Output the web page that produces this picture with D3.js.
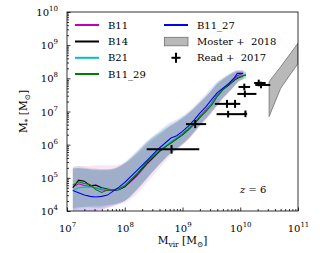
<!DOCTYPE html>
<html>
<head>
<meta charset="utf-8">
<script src="https://cdn.jsdelivr.net/npm/d3@7"></script>
<style>
  body { margin: 0; background: #fff; }
  text { font-family: "DejaVu Serif", serif; fill: #000; }
</style>
</head>
<body>
<div id="chart"></div>
<script>
// all values are log10 (Mvir, M*)
const logMvir = [7.1, 7.2, 7.3, 7.4, 7.5, 7.6, 7.7, 7.8, 7.9, 8.0, 8.2, 8.4, 8.6, 8.8, 8.9, 9.0,
    9.1, 9.2, 9.3, 9.4, 9.5, 9.6, 9.7, 9.8, 9.9, 9.95, 10.05, 10.1];

const b11 = [4.72, 4.82, 4.77, 4.74, 4.70, 4.64, 4.62, 4.63, 4.66, 4.72, 5.04, 5.44, 5.79, 6.08, 6.20, 6.33,
    6.48, 6.66, 6.86, 7.04, 7.24, 7.50, 7.68, 7.84, 8.00, 8.08, 8.15, null];
const b11Hi = [5.30, 5.36, 5.36, 5.36, 5.38, 5.38, 5.38, 5.37, 5.40, 5.45, 5.68, 6.02, 6.30, 6.56, 6.67, 6.80,
    6.94, 7.10, 7.27, 7.44, 7.64, 7.84, 7.97, 8.10, 8.20, 8.23, 8.23, null];
const b11Lo = [3.6, 3.7, 3.8, 3.9, 4.0, 4.05, 4.1, 4.15, 4.2, 4.25, 4.5, 4.88, 5.28, 5.68, 5.84, 5.98,
    6.14, 6.34, 6.54, 6.74, 6.94, 7.16, 7.38, 7.56, 7.76, 7.85, 7.96, null];

const b14 = [4.70, 4.93, 4.90, 4.76, 4.78, 4.70, 4.66, 4.63, 4.64, 4.74, 5.08, 5.47, 5.80, 6.06, 6.18, 6.30,
    6.45, 6.62, 6.82, 7.00, 7.20, 7.46, 7.66, 7.80, 7.95, 8.00, 8.08, 8.10];
const b14Hi = [5.28, 5.30, 5.28, 5.26, 5.25, 5.24, 5.24, 5.26, 5.33, 5.44, 5.74, 6.08, 6.34, 6.58, 6.68, 6.80,
    6.93, 7.08, 7.26, 7.43, 7.62, 7.82, 7.96, 8.08, 8.17, 8.20, 8.20, 8.18];
const b14Lo = [4.05, 4.1, 4.12, 4.14, 4.15, 4.16, 4.18, 4.2, 4.24, 4.3, 4.6, 5.0, 5.4, 5.74, 5.88, 6.02,
    6.18, 6.38, 6.58, 6.78, 6.98, 7.18, 7.4, 7.58, 7.76, 7.86, 7.98, 8.0];

const b21 = [4.62, 4.70, 4.72, 4.72, 4.70, 4.67, 4.65, 4.64, 4.66, 4.76, 5.12, 5.50, 5.83, 6.08, 6.20, 6.32,
    6.48, 6.65, 6.86, 7.02, 7.22, 7.48, 7.68, 7.83, 7.97, 8.03, 8.10, 8.10];
const b21Hi = [5.25, 5.28, 5.26, 5.24, 5.22, 5.22, 5.22, 5.25, 5.32, 5.44, 5.76, 6.12, 6.38, 6.62, 6.72, 6.84,
    6.97, 7.12, 7.30, 7.46, 7.66, 7.86, 7.99, 8.10, 8.19, 8.22, 8.22, 8.18];
const b21Lo = [4.0, 4.05, 4.08, 4.1, 4.1, 4.12, 4.15, 4.2, 4.25, 4.32, 4.64, 5.04, 5.42, 5.76, 5.9, 6.04,
    6.2, 6.4, 6.6, 6.8, 7.0, 7.22, 7.42, 7.6, 7.78, 7.88, 7.98, 8.0];

const b1129 = [4.78, 4.88, 4.83, 4.80, 4.65, 4.56, 4.63, 4.64, 4.68, 4.76, 5.10, 5.50, 5.82, 6.05, 6.18, 6.30,
    6.46, 6.63, 6.84, 7.00, 7.18, 7.45, 7.66, 7.82, 7.96, 8.02, 8.08, 8.10];
const b1129Hi = [5.34, 5.36, 5.32, 5.30, 5.28, 5.26, 5.26, 5.28, 5.34, 5.44, 5.74, 6.10, 6.36, 6.60, 6.70, 6.82,
    6.95, 7.10, 7.28, 7.45, 7.65, 7.86, 8.00, 8.12, 8.21, 8.24, 8.24, 8.20];
const b1129Lo = [4.1, 4.12, 4.12, 4.12, 4.1, 4.1, 4.14, 4.18, 4.24, 4.3, 4.62, 5.02, 5.4, 5.74, 5.88, 6.02,
    6.18, 6.38, 6.58, 6.78, 6.96, 7.2, 7.42, 7.6, 7.78, 7.88, 7.98, 8.0];

const b1127 = [4.62, 4.55, 4.48, 4.44, 4.42, 4.44, 4.48, 4.60, 4.72, 4.86, 5.20, 5.55, 5.90, 6.20, 6.27, 6.40,
    6.56, 6.74, 6.95, 7.13, 7.35, 7.56, 7.70, 7.84, 8.02, 8.15, 8.15, null];
const b1127Hi = [5.30, 5.30, 5.28, 5.26, 5.25, 5.25, 5.26, 5.28, 5.36, 5.48, 5.80, 6.14, 6.42, 6.68, 6.76, 6.87,
    7.00, 7.16, 7.34, 7.52, 7.72, 7.90, 8.02, 8.12, 8.22, 8.25, 8.25, null];
const b1127Lo = [3.5, 3.6, 3.75, 3.9, 4.0, 4.05, 4.08, 4.14, 4.2, 4.3, 4.64, 5.02, 5.4, 5.76, 5.86, 6.0,
    6.16, 6.36, 6.56, 6.76, 6.98, 7.18, 7.4, 7.58, 7.78, 7.9, 7.98, null];

// Moster + 2018 band
const mosterX = [10.5, 10.7, 11.0];
const mosterLo = [6.85, 7.7, 8.45];
const mosterHi = [7.9, 8.35, 9.06];

// Read + 2017 points with errors
const readX = [8.81, 9.22, 9.79, 10.09, 9.77, 9.91, 10.07, 10.08, 10.32, 10.36];
const readY = [5.86, 6.62, 6.92, 6.93, 7.23, 7.23, 7.74, 7.53, 7.86, 7.80];
const readXlo = [8.38, 9.06, 9.59, 10.06, 9.56, 9.80, 9.97, 9.95, 10.24, 10.26];
const readXhi = [9.29, 9.41, 10.09, 10.12, 9.91, 10.00, 10.17, 10.28, 10.44, 10.52];
const readYerr = [0.13, 0.12, 0.1, 0.1, 0.12, 0.12, 0.1, 0.1, 0.1, 0.1];

const xMajor = [1e7, 1e8, 1e9, 1e10, 1e11];
const yMajor = [1e4, 1e5, 1e6, 1e7, 1e8, 1e9, 1e10];

const runs = [
    { name: "B11", color: "#bf00bf", y: b11, hi: b11Hi, lo: b11Lo },
    { name: "B14", color: "#000000", y: b14, hi: b14Hi, lo: b14Lo },
    { name: "B21", color: "#00bfbf", y: b21, hi: b21Hi, lo: b21Lo },
    { name: "B11_29", color: "#008000", y: b1129, hi: b1129Hi, lo: b1129Lo },
    { name: "B11_27", color: "#0000ff", y: b1127, hi: b1127Hi, lo: b1127Lo },
];

//DIMENSIONS
const dimension = {
    width: 331,
    height: 253,
    margin: { top: 12, right: 33, bottom: 42, left: 67 },
};
dimension.boundedWidth = dimension.width - dimension.margin.left - dimension.margin.right;
dimension.boundedHeight = dimension.height - dimension.margin.top - dimension.margin.bottom;

//SCALES
const xScale = d3.scaleLog().domain([1e7, 1e11]).range([0, dimension.boundedWidth]);
const yScale = d3.scaleLog().domain([1e4, 1e10]).range([dimension.boundedHeight, 0]);

const svg = d3.select("#chart").append("svg")
    .attr("width", dimension.width)
    .attr("height", dimension.height);

const bounds = svg.append("g")
    .attr("transform", `translate(${dimension.margin.left},${dimension.margin.top})`);

bounds.append("clipPath").attr("id", "clip")
    .append("rect")
    .attr("width", dimension.boundedWidth)
    .attr("height", dimension.boundedHeight);

const plot = bounds.append("g").attr("clip-path", "url(#clip)");

//BANDS
runs.forEach(run => {
    const rows = logMvir.map((m, i) => ({ m, lo: run.lo[i], hi: run.hi[i] }));
    const area = d3.area()
        .defined(d => d.lo != null)
        .x(d => xScale(10 ** d.m))
        .y0(d => yScale(10 ** d.lo))
        .y1(d => yScale(10 ** d.hi))
        .curve(d3.curveMonotoneX);
    plot.append("path")
        .attr("d", area(rows))
        .attr("fill", run.color)
        .attr("fill-opacity", 0.1);
});

//LINES
runs.forEach(run => {
    const rows = logMvir.map((m, i) => ({ m, v: run.y[i] }));
    const line = d3.line()
        .defined(d => d.v != null)
        .x(d => xScale(10 ** d.m))
        .y(d => yScale(10 ** d.v));
    plot.append("path")
        .attr("d", line(rows))
        .attr("fill", "none")
        .attr("stroke", run.color)
        .attr("stroke-width", 1.1);
});

//MOSTER BAND
const mosterRows = mosterX.map((m, i) => ({ m, lo: mosterLo[i], hi: mosterHi[i] }));
plot.append("path")
    .attr("d", d3.area()
        .x(d => xScale(10 ** d.m))
        .y0(d => yScale(10 ** d.lo))
        .y1(d => yScale(10 ** d.hi))(mosterRows))
    .attr("fill", "#808080")
    .attr("fill-opacity", 0.55)
    .attr("stroke", "#707070")
    .attr("stroke-width", 0.8);

//READ POINTS
const readRows = readX.map((m, i) => ({
    m, v: readY[i], xlo: readXlo[i], xhi: readXhi[i], ye: readYerr[i]
}));
const readG = plot.append("g").attr("stroke", "#000").attr("stroke-width", 2);
readG.selectAll(".hbar").data(readRows).enter().append("line")
    .attr("x1", d => xScale(10 ** d.xlo))
    .attr("x2", d => xScale(10 ** d.xhi))
    .attr("y1", d => yScale(10 ** d.v))
    .attr("y2", d => yScale(10 ** d.v));
readG.selectAll(".vbar").data(readRows).enter().append("line")
    .attr("x1", d => xScale(10 ** d.m))
    .attr("x2", d => xScale(10 ** d.m))
    .attr("y1", d => yScale(10 ** (d.v - d.ye)))
    .attr("y2", d => yScale(10 ** (d.v + d.ye)));

//AXES
function supLabels(sel) {
    sel.selectAll(".tick text").each(function (d) {
        const t = d3.select(this).text(null);
        t.append("tspan").text("10");
        t.append("tspan").attr("dy", -5).attr("font-size", 7).text(Math.round(Math.log10(d)));
    });
}

const xMinor = xScale.ticks().filter(v => !xMajor.includes(v));
const yMinor = yScale.ticks().filter(v => !yMajor.some(m => Math.abs(m - v) / m < 1e-6));

const xAxis = bounds.append("g")
    .attr("transform", `translate(0,${dimension.boundedHeight})`)
    .call(d3.axisBottom(xScale).tickValues(xMajor).tickSize(-3.5).tickFormat(d => d));
xAxis.call(supLabels);
xAxis.selectAll(".tick text").attr("y", 21).attr("dy", null).attr("font-size", 10);
bounds.append("g")
    .attr("transform", `translate(0,${dimension.boundedHeight})`)
    .call(d3.axisBottom(xScale).tickValues(xMinor).tickSize(-2).tickFormat(""));

const yAxis = bounds.append("g")
    .call(d3.axisLeft(yScale).tickValues(yMajor).tickSize(-3.5).tickFormat(d => d));
yAxis.call(supLabels);
yAxis.selectAll(".tick text").attr("x", -9).attr("dy", "0.36em").attr("font-size", 10);
bounds.append("g")
    .call(d3.axisLeft(yScale).tickValues(yMinor).tickSize(-2).tickFormat(""));

bounds.selectAll(".domain").remove();
bounds.selectAll(".tick line").attr("stroke", "#000").attr("stroke-width", 0.8);
bounds.selectAll(".tick text").attr("font-family", "DejaVu Serif, serif");

bounds.append("rect")
    .attr("width", dimension.boundedWidth)
    .attr("height", dimension.boundedHeight)
    .attr("fill", "none")
    .attr("stroke", "#000")
    .attr("stroke-width", 0.8);

//AXIS LABELS
const xLabel = svg.append("text")
    .attr("x", dimension.margin.left + dimension.boundedWidth / 2)
    .attr("y", 244)
    .attr("text-anchor", "middle")
    .attr("font-size", 10.5);
xLabel.append("tspan").text("M");
xLabel.append("tspan").attr("dy", 2.5).attr("font-size", 7.5).text("vir");
xLabel.append("tspan").attr("dy", -2.5).text(" [M");
xLabel.append("tspan").attr("dy", 2.5).attr("font-size", 7.5).text("⊙");
xLabel.append("tspan").attr("dy", -2.5).text("]");

const yLabel = svg.append("text")
    .attr("transform", `translate(27,${dimension.margin.top + dimension.boundedHeight / 2}) rotate(-90)`)
    .attr("text-anchor", "middle")
    .attr("font-size", 10.5);
yLabel.append("tspan").text("M");
yLabel.append("tspan").attr("dy", 2.5).attr("font-size", 7.5).text("*");
yLabel.append("tspan").attr("dy", -2.5).text(" [M");
yLabel.append("tspan").attr("dy", 2.5).attr("font-size", 7.5).text("⊙");
yLabel.append("tspan").attr("dy", -2.5).text("]");

//REDSHIFT
const zText = svg.append("text").attr("x", 240).attr("y", 193).attr("font-size", 10);
zText.append("tspan").attr("font-style", "italic").text("z");
zText.append("tspan").text(" = 6");

//LEGEND
const legend = svg.append("g");
const col1 = runs.slice(0, 4);
const rowY = [25, 41.5, 57.8, 74];
col1.forEach((run, i) => {
    legend.append("line").attr("x1", 75).attr("x2", 99).attr("y1", rowY[i]).attr("y2", rowY[i])
        .attr("stroke", run.color).attr("stroke-width", 2);
    legend.append("text").attr("x", 108).attr("y", rowY[i] + 3.6).attr("font-size", 10).text(run.name);
});
const lastRun = runs[4];
legend.append("line").attr("x1", 164).attr("x2", 188).attr("y1", rowY[0]).attr("y2", rowY[0])
    .attr("stroke", lastRun.color).attr("stroke-width", 2);
legend.append("text").attr("x", 197).attr("y", rowY[0] + 3.6).attr("font-size", 10).text(lastRun.name);

legend.append("rect").attr("x", 164.5).attr("y", 37.3).attr("width", 23.5).attr("height", 8.5)
    .attr("fill", "#808080").attr("fill-opacity", 0.55).attr("stroke", "#707070").attr("stroke-width", 0.8);
legend.append("text").attr("x", 197).attr("y", rowY[1] + 3.6).attr("font-size", 10)
    .attr("xml:space", "preserve").text("Moster +  2018");

legend.append("line").attr("x1", 171.5).attr("x2", 180.5).attr("y1", rowY[2]).attr("y2", rowY[2])
    .attr("stroke", "#000").attr("stroke-width", 2);
legend.append("line").attr("x1", 176).attr("x2", 176).attr("y1", rowY[2] - 5).attr("y2", rowY[2] + 5)
    .attr("stroke", "#000").attr("stroke-width", 2);
legend.append("text").attr("x", 197).attr("y", rowY[2] + 3.6).attr("font-size", 10)
    .attr("xml:space", "preserve").text("Read +  2017");
</script>
</body>
</html>
